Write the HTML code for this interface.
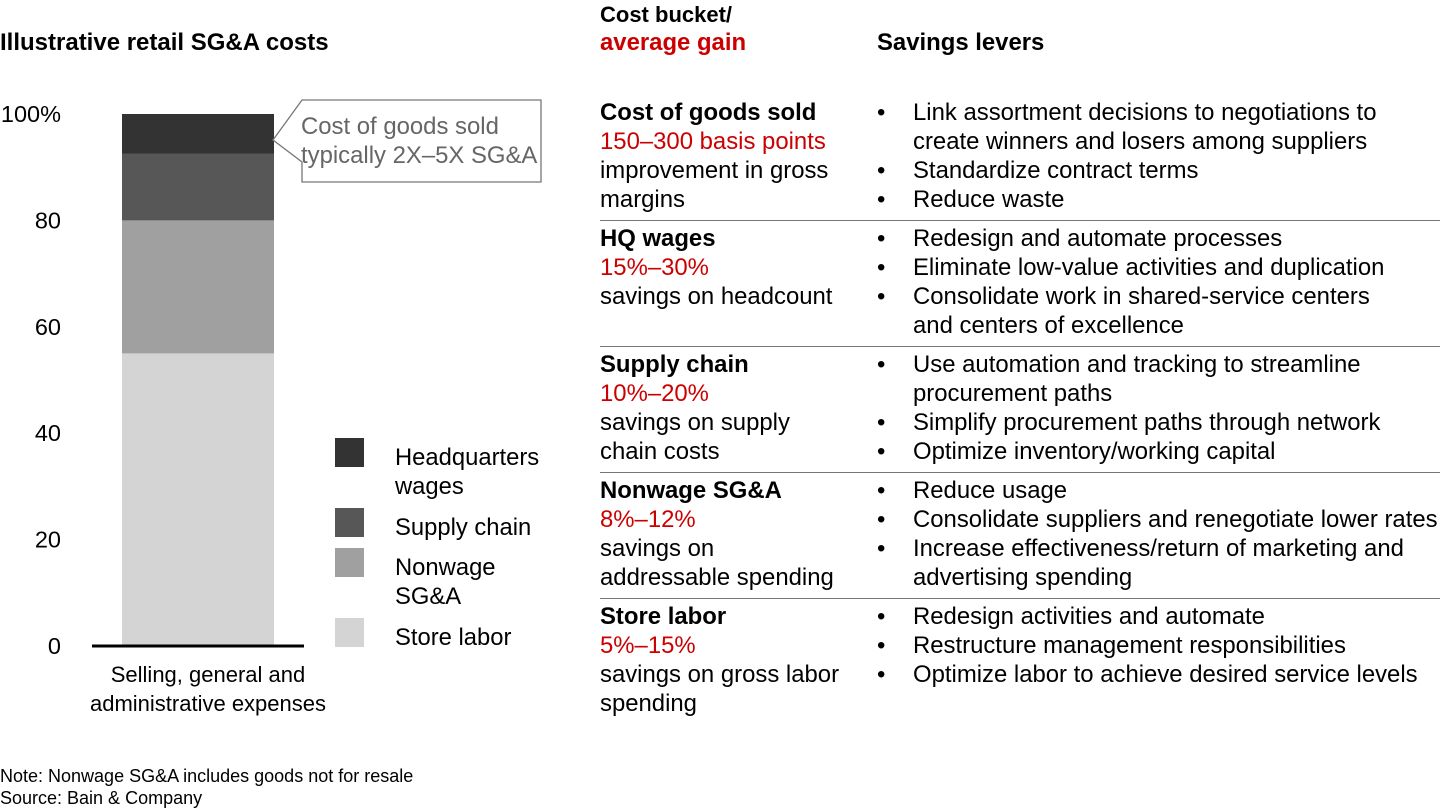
<!DOCTYPE html>
<html><head><meta charset="utf-8"><style>
body{margin:0;width:1440px;height:810px;background:#fff;font-family:"Liberation Sans",sans-serif;color:#000;position:relative;overflow:hidden}
.t{position:absolute;white-space:nowrap;font-size:23.9px;line-height:29px}
.b{font-weight:bold}
.r{color:#cc0000}
.sep{position:absolute;left:600px;width:840px;height:1px;background:#777}
</style></head><body>
<div class="t b" style="left:0;top:28px;font-size:24px">Illustrative retail SG&amp;A costs</div>
<svg id="chart" width="600" height="740" style="position:absolute;left:0;top:0"></svg>
<div class="t b" style="left:600px;top:0;font-size:22px">Cost bucket/</div>
<div class="t b r" style="left:600px;top:28px">average gain</div>
<div class="t b" style="left:877px;top:28px">Savings levers</div>
<div id="table"></div>
<div class="t" style="left:0;top:765px;font-size:18px;line-height:22px">Note: Nonwage SG&amp;A includes goods not for resale<br>Source: Bain &amp; Company</div>
<script>
const categories=["Store labor","Nonwage SG&A","Supply chain","Headquarters wages"];
const values=[55,25,12.5,7.5];
const colors=["#d4d4d4","#a0a0a0","#575757","#333333"];
const ticks=[0,20,40,60,80,100];
const tickLabels=["0","20","40","60","80","100%"];
const NS="http://www.w3.org/2000/svg";
const svg=document.getElementById('chart');
const y0=646,pxPer=5.32;
function y(v){return y0-v*pxPer;}
function mk(tag,attrs){const e=document.createElementNS(NS,tag);for(const k in attrs)e.setAttribute(k,attrs[k]);svg.appendChild(e);return e;}
ticks.forEach((t,i)=>{const e=mk('text',{x:61,y:y(t)+8,'text-anchor':'end','font-size':23.5,'font-family':'Liberation Sans'});e.textContent=tickLabels[i];

});
let acc=0;
values.forEach((v,i)=>{const r=mk('rect',{x:122,y:y(acc+v),width:152,height:v*pxPer,fill:colors[i]});

acc+=v;});
const ax=mk('line',{x1:92,x2:304,y1:y0,y2:y0,stroke:'#000','stroke-width':3});


const xl=mk('text',{x:208,y:682,'text-anchor':'middle','font-size':22,'font-family':'Liberation Sans'});
xl.innerHTML='<tspan x="208">Selling, general and</tspan><tspan x="208" dy="29">administrative expenses</tspan>';


const co=mk('path',{d:'M302 100 H541 V182 H302 V162 L273 140 L302 100 Z',fill:'#fff',stroke:'#777','stroke-width':1.3});


const ct=mk('text',{x:301,y:134,'font-size':23.9,fill:'#666','font-family':'Liberation Sans'});
ct.innerHTML='<tspan x="301">Cost of goods sold</tspan><tspan x="301" dy="29">typically 2X–5X SG&amp;A</tspan>';


const legY=[618,548,508,438];
const legLabels=[["Store labor"],["Nonwage","SG&A"],["Supply chain"],["Headquarters","wages"]];
categories.forEach((c,i)=>{const r=mk('rect',{x:335,y:legY[i],width:29,height:29,fill:colors[i]});


const t=mk('text',{x:395,y:legY[i]+27,'font-size':23.8,'font-family':'Liberation Sans'});
legLabels[i].forEach((l,j)=>{const s=document.createElementNS(NS,'tspan');s.setAttribute('x',395);if(j)s.setAttribute('dy',29);s.textContent=l;t.appendChild(s);});

});
const rows=[
 {top:98,name:"Cost of goods sold",gain:"150–300 basis points",desc:["improvement in gross","margins"],lev:[["Link assortment decisions to negotiations to","create winners and losers among suppliers"],["Standardize contract terms"],["Reduce waste"]]},
 {top:224,name:"HQ wages",gain:"15%–30%",desc:["savings on headcount"],lev:[["Redesign and automate processes"],["Eliminate low-value activities and duplication"],["Consolidate work in shared-service centers","and centers of excellence"]]},
 {top:350,name:"Supply chain",gain:"10%–20%",desc:["savings on supply","chain costs"],lev:[["Use automation and tracking to streamline","procurement paths"],["Simplify procurement paths through network"],["Optimize inventory/working capital"]]},
 {top:476,name:"Nonwage SG&A",gain:"8%–12%",desc:["savings on","addressable spending"],lev:[["Reduce usage"],["Consolidate suppliers and renegotiate lower rates"],["Increase effectiveness/return of marketing and","advertising spending"]]},
 {top:602,name:"Store labor",gain:"5%–15%",desc:["savings on gross labor","spending"],lev:[["Redesign activities and automate"],["Restructure management responsibilities"],["Optimize labor to achieve desired service levels"]]}
];
const tb=document.getElementById('table');
const esc=s=>s.replace(/&/g,'&amp;');
rows.forEach((r,i)=>{
 let h='<div class="t b" style="left:600px;top:'+r.top+'px">'+esc(r.name)+'</div>';
 h+='<div class="t r" style="left:600px;top:'+(r.top+29)+'px">'+r.gain+'</div>';
 h+='<div class="t" style="left:600px;top:'+(r.top+58)+'px">'+r.desc.join('<br>')+'</div>';
 let ly=r.top;
 r.lev.forEach(l=>{h+='<div class="t" style="left:877px;top:'+ly+'px">•</div><div class="t" style="left:913px;top:'+ly+'px">'+l.map(esc).join('<br>')+'</div>';ly+=29*l.length;});
 if(i>0)h+='<div class="sep" style="top:'+(r.top-4)+'px"></div>';
 tb.insertAdjacentHTML('beforeend',h);
});
</script>
</body></html>
